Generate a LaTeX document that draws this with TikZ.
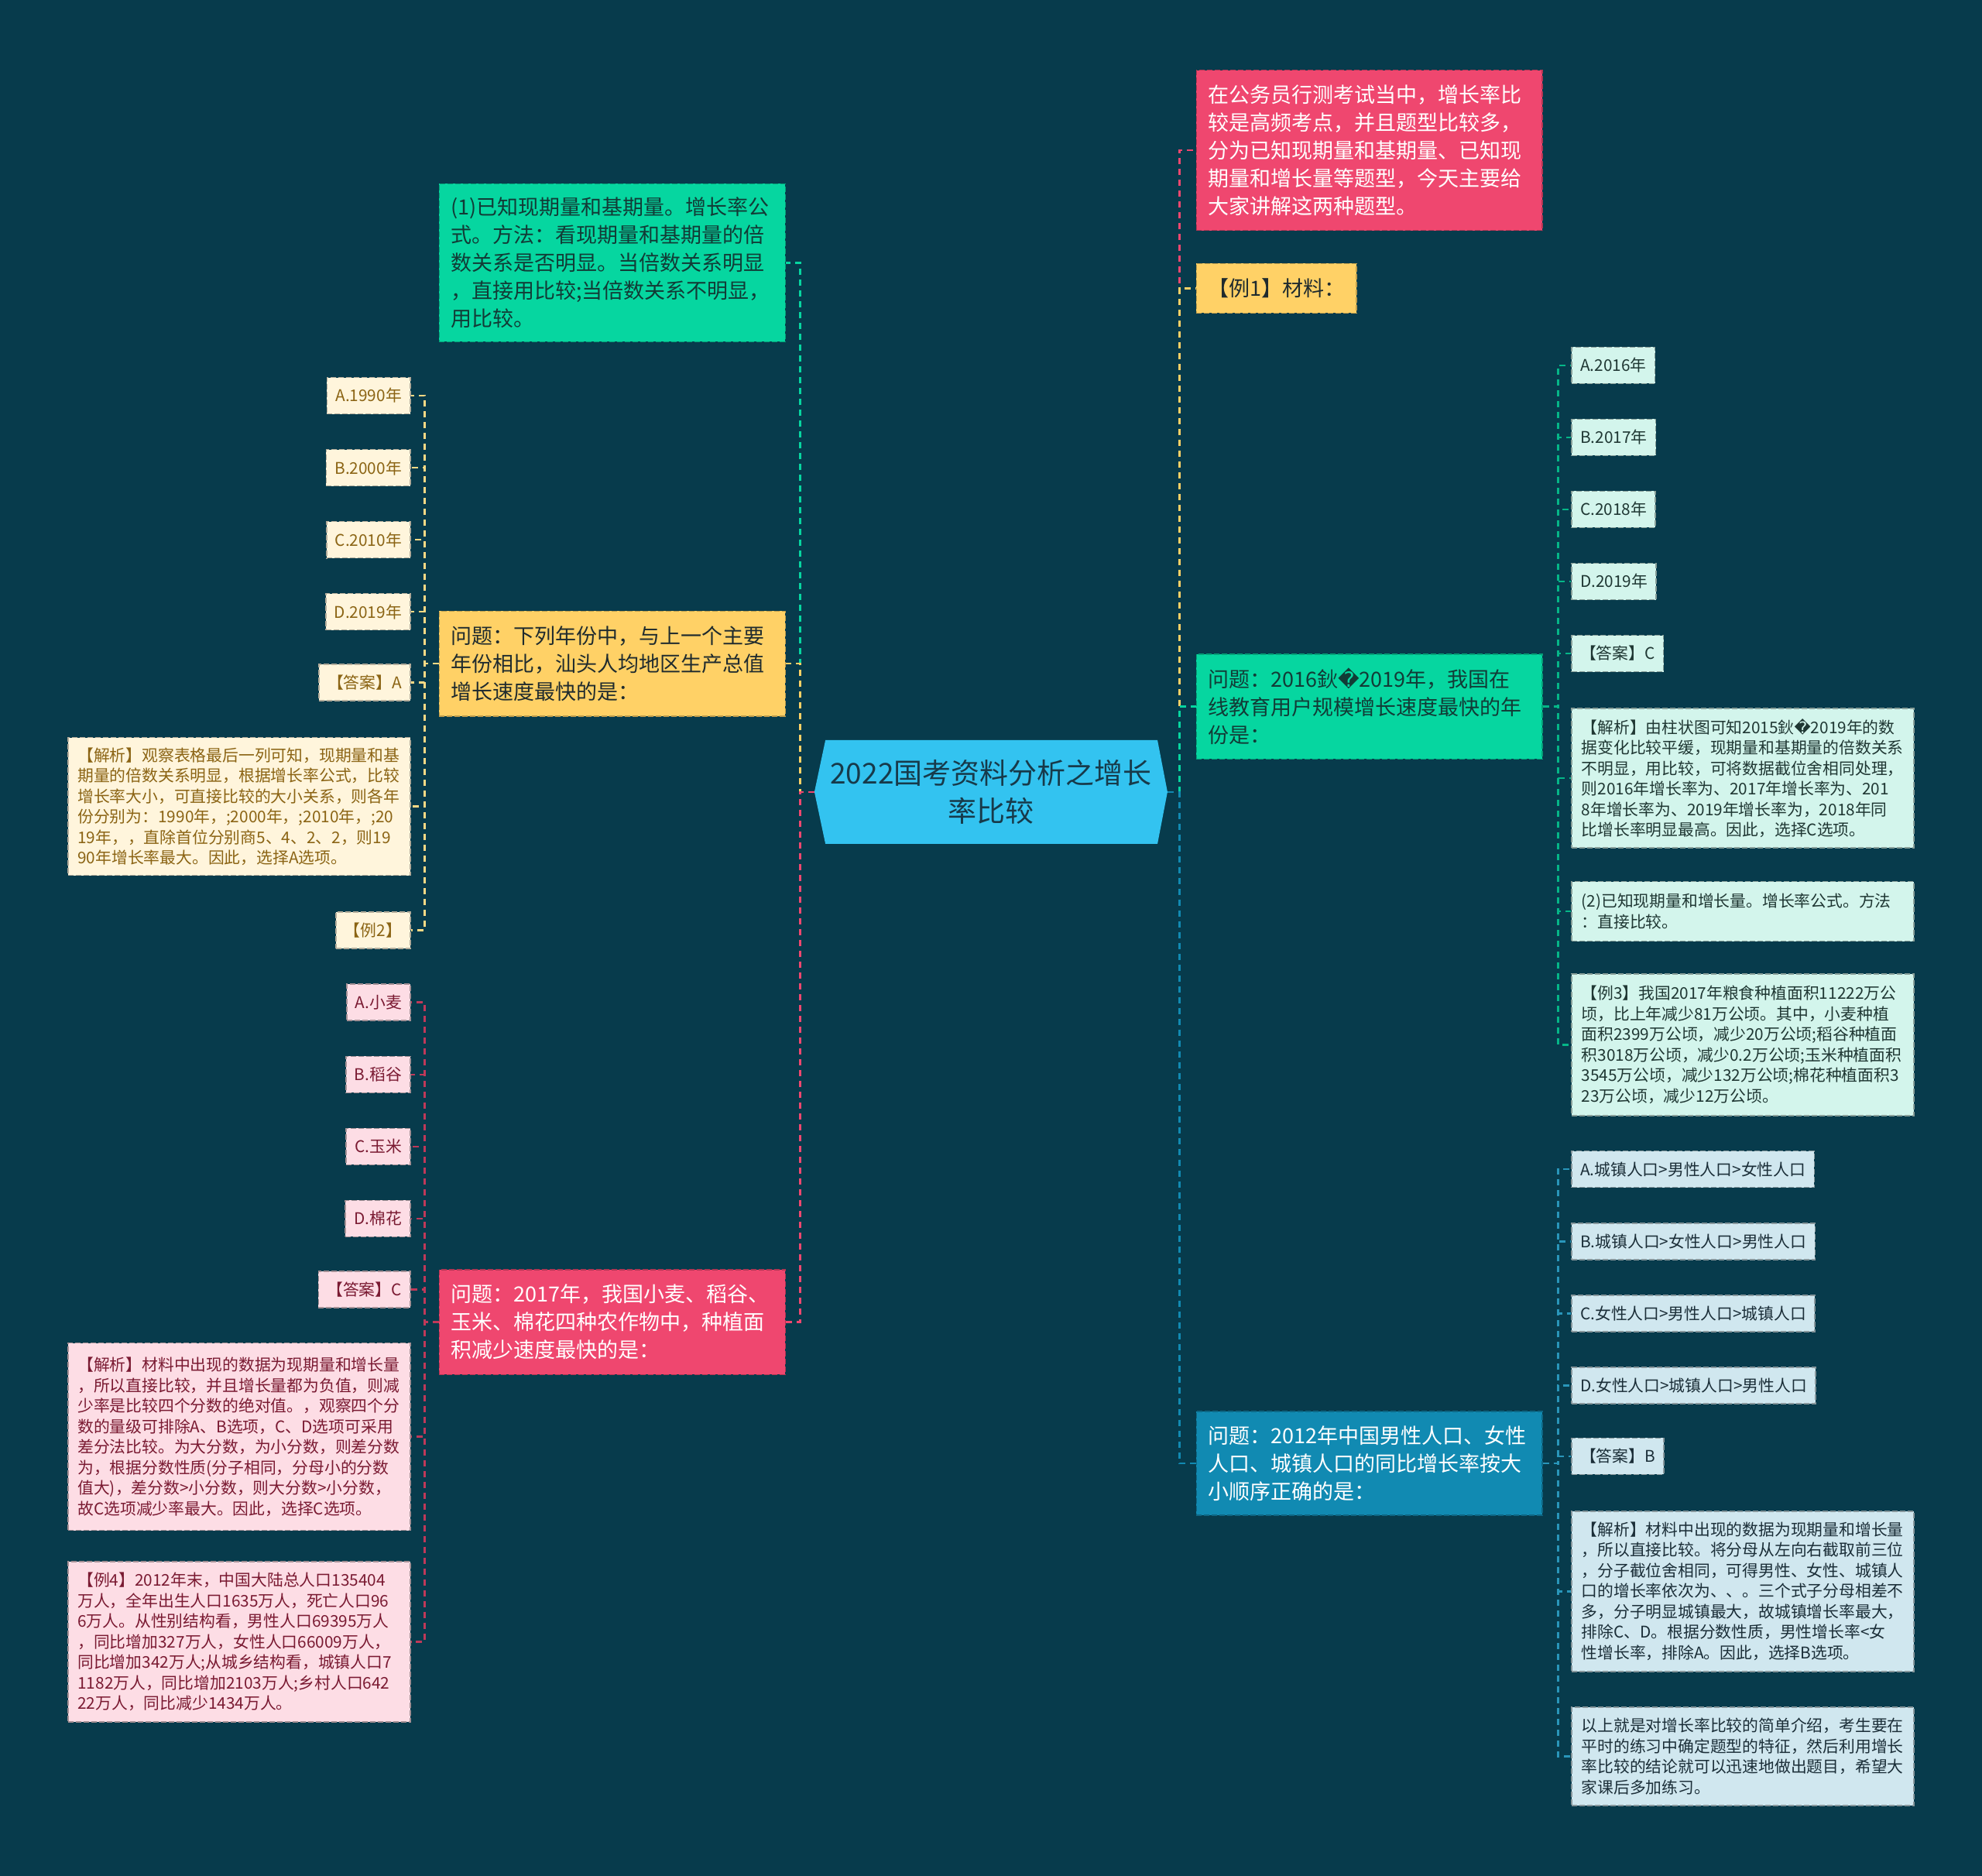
\documentclass[tikz,border=0pt]{standalone}
\usepackage{fontspec}
\setmainfont{Noto Sans CJK SC}
\newfontfamily\dvs{DejaVu Sans}
\newcommand{\repch}{{\dvs ^^^^fffd}}
\definecolor{bg}{HTML}{073B4C}
\definecolor{croot}{HTML}{33C3F0}
\definecolor{roottext}{HTML}{173A4A}
\definecolor{cpink}{HTML}{EF476F}
\definecolor{cyel}{HTML}{FFD166}
\definecolor{cgreen}{HTML}{06D6A0}
\definecolor{cblue}{HTML}{118AB2}
\definecolor{darkA}{HTML}{1F2B2E}
\definecolor{darkG}{HTML}{123B36}
\definecolor{yfill}{HTML}{FFF5DC}
\definecolor{ytext}{HTML}{8B6414}
\definecolor{pfill}{HTML}{FDDDE5}
\definecolor{ptext}{HTML}{7A1A32}
\definecolor{gfill}{HTML}{D3F5EC}
\definecolor{gtext}{HTML}{1F3733}
\definecolor{bfill}{HTML}{D0E7EF}
\definecolor{btext}{HTML}{1B2E38}
\tikzset{
  boxbase/.style={rectangle, line width=1.5pt, dash pattern=on 7pt off 3pt, inner ysep=0pt},
  lone/.style={boxbase, text width=417pt, inner xsep=15pt, align=left, font=\fontsize{27}{36}\selectfont},
  lonesmall/.style={boxbase, inner xsep=15pt, font=\fontsize{27}{36}\selectfont},
  ltwo/.style={boxbase, text width=417pt, inner xsep=12.5pt, align=left, font=\fontsize{20.8}{26.5}\selectfont},
  lsmall/.style={boxbase, inner xsep=11pt, minimum height=47pt, font=\fontsize{20.8}{26.5}\selectfont},
  ychild/.style={fill=yfill, draw=yfill!70!black, text=ytext},
  pchild/.style={fill=pfill, draw=pfill!65!black, text=ptext},
  gchild/.style={fill=gfill, draw=gfill!65!black, text=gtext},
  bchild/.style={fill=bfill, draw=bfill!65!black, text=btext},
  conn/.style={line width=2.5pt, dash pattern=on 8pt off 6pt},
}
\begin{document}
\begin{tikzpicture}[x=1.6327pt, y={(0pt,-1.6327pt)}]
\fill[bg] (0,0) rectangle (1568,1484);
\useasboundingbox (0,0) rectangle (1568,1484);

% root
\fill[croot] (653,585.5) -- (915.7,585.5) -- (923.6,626.5) -- (915.7,667.6) -- (653,667.6) -- (644.3,626.5) -- cycle;
\node[minimum width=456pt, minimum height=134pt, inner sep=0pt, align=center, text=roottext, font=\fontsize{37}{50}\selectfont] (root) at (784,626.5) {2022国考资料分析之增长\\率比较};

% right level 1
\node[lone, fill=cpink, draw=cpink!75!black, text=white, minimum height=207pt, anchor=north west] (intro) at (946,55) {在公务员行测考试当中，增长率比\\较是高频考点，并且题型比较多，\\分为已知现期量和基期量、已知现\\期量和增长量等题型，今天主要给\\大家讲解这两种题型。};
\node[lonesmall, fill=cyel, draw=cyel!75!black, text=darkA, minimum height=64pt, anchor=north west] (ex1) at (946,208) {【例1】材料：};
\node[lone, fill=cgreen, draw=cgreen!75!black, text=darkG, minimum height=135.5pt, anchor=north west] (q16) at (946,517) {问题：2016鈥\repch 2019年，我国在\\线教育用户规模增长速度最快的年\\份是：};
\node[lone, fill=cblue, draw=cblue!75!black, text=white, minimum height=134pt, anchor=north west] (q12) at (946,1116) {问题：2012年中国男性人口、女性\\人口、城镇人口的同比增长率按大\\小顺序正确的是：};

% left level 1
\node[lone, fill=cgreen, draw=cgreen!75!black, text=darkG, minimum height=204pt, anchor=north west] (m1) at (347,145) {(1)已知现期量和基期量。增长率公\\式。方法：看现期量和基期量的倍\\数关系是否明显。当倍数关系明显\\，直接用比较;当倍数关系不明显，\\用比较。};
\node[lone, fill=cyel, draw=cyel!75!black, text=darkA, minimum height=135.5pt, anchor=north west] (qyr) at (347,483) {问题：下列年份中，与上一个主要\\年份相比，汕头人均地区生产总值\\增长速度最快的是：};
\node[lone, fill=cpink, draw=cpink!75!black, text=white, minimum height=135.5pt, anchor=north west] (qcrop) at (347,1004) {问题：2017年，我国小麦、稻谷、\\玉米、棉花四种农作物中，种植面\\积减少速度最快的是：};

% right level 2 (q16)
\node[lsmall, gchild, anchor=west] (s16a) at (1243,289) {A.2016年};
\node[lsmall, gchild, anchor=west] (s16b) at (1243,346) {B.2017年};
\node[lsmall, gchild, anchor=west] (s16c) at (1243,403) {C.2018年};
\node[lsmall, gchild, anchor=west] (s16d) at (1243,460) {D.2019年};
\node[lsmall, gchild, anchor=west] (s16ans) at (1243,517) {【答案】C};
\node[ltwo, gchild, minimum height=180pt, anchor=north west] (j16) at (1243,560) {【解析】由柱状图可知2015鈥\repch 2019年的数\\据变化比较平缓，现期量和基期量的倍数关系\\不明显，用比较，可将数据截位舍相同处理，\\则2016年增长率为、2017年增长率为、201\\8年增长率为、2019年增长率为，2018年同\\比增长率明显最高。因此，选择C选项。};
\node[ltwo, gchild, minimum height=77pt, anchor=north west] (m2) at (1243,697) {(2)已知现期量和增长量。增长率公式。方法\\：直接比较。};
\node[ltwo, gchild, minimum height=183pt, anchor=north west] (ex3) at (1243,770) {【例3】我国2017年粮食种植面积11222万公\\顷，比上年减少81万公顷。其中，小麦种植\\面积2399万公顷，减少20万公顷;稻谷种植面\\积3018万公顷，减少0.2万公顷;玉米种植面积\\3545万公顷，减少132万公顷;棉花种植面积3\\23万公顷，减少12万公顷。};

% right level 2 (q12)
\node[lsmall, bchild, anchor=west] (optA) at (1243,925) {A.城镇人口>男性人口>女性人口};
\node[lsmall, bchild, anchor=west] (optB) at (1243,982) {B.城镇人口>女性人口>男性人口};
\node[lsmall, bchild, anchor=west] (optC) at (1243,1039) {C.女性人口>男性人口>城镇人口};
\node[lsmall, bchild, anchor=west] (optD) at (1243,1096) {D.女性人口>城镇人口>男性人口};
\node[lsmall, bchild, anchor=west] (ans12) at (1243,1152) {【答案】B};
\node[ltwo, bchild, minimum height=207pt, anchor=north west] (j12) at (1243,1195) {【解析】材料中出现的数据为现期量和增长量\\，所以直接比较。将分母从左向右截取前三位\\，分子截位舍相同，可得男性、女性、城镇人\\口的增长率依次为、、。三个式子分母相差不\\多，分子明显城镇最大，故城镇增长率最大，\\排除C、D。根据分数性质，男性增长率<女\\性增长率，排除A。因此，选择B选项。};
\node[ltwo, bchild, minimum height=127pt, anchor=north west] (summ) at (1243,1350) {以上就是对增长率比较的简单介绍，考生要在\\平时的练习中确定题型的特征，然后利用增长\\率比较的结论就可以迅速地做出题目，希望大\\家课后多加练习。};

% left level 2 (qyr)
\node[lsmall, ychild, anchor=east] (y90) at (325,313) {A.1990年};
\node[lsmall, ychild, anchor=east] (y00) at (325,370) {B.2000年};
\node[lsmall, ychild, anchor=east] (y10) at (325,427) {C.2010年};
\node[lsmall, ychild, anchor=east] (y19) at (325,484) {D.2019年};
\node[lsmall, ychild, anchor=east] (ansY) at (325,540) {【答案】A};
\node[ltwo, ychild, minimum height=178pt, anchor=north east] (jY) at (325,583) {【解析】观察表格最后一列可知，现期量和基\\期量的倍数关系明显，根据增长率公式，比较\\增长率大小，可直接比较的大小关系，则各年\\份分别为：1990年，;2000年，;2010年，;20\\19年，，直除首位分别商5、4、2、2，则19\\90年增长率最大。因此，选择A选项。};
\node[lsmall, ychild, anchor=east] (ex2) at (325,736) {【例2】};

% left level 2 (qcrop)
\node[lsmall, pchild, anchor=east] (wheat) at (325,793) {A.小麦};
\node[lsmall, pchild, anchor=east] (rice) at (325,850) {B.稻谷};
\node[lsmall, pchild, anchor=east] (corn) at (325,907) {C.玉米};
\node[lsmall, pchild, anchor=east] (cotton) at (325,964) {D.棉花};
\node[lsmall, pchild, anchor=east] (ansC) at (325,1020) {【答案】C};
\node[ltwo, pchild, minimum height=242pt, anchor=north east] (jC) at (325,1062) {【解析】材料中出现的数据为现期量和增长量\\，所以直接比较，并且增长量都为负值，则减\\少率是比较四个分数的绝对值。，观察四个分\\数的量级可排除A、B选项，C、D选项可采用\\差分法比较。为大分数，为小分数，则差分数\\为，根据分数性质(分子相同，分母小的分数\\值大)，差分数>小分数，则大分数>小分数，\\故C选项减少率最大。因此，选择C选项。};
\node[ltwo, pchild, minimum height=207pt, anchor=north east] (ex4) at (325,1235) {【例4】2012年末，中国大陆总人口135404\\万人，全年出生人口1635万人，死亡人口96\\6万人。从性别结构看，男性人口69395万人\\，同比增加327万人，女性人口66009万人，\\同比增加342万人;从城乡结构看，城镇人口7\\1182万人，同比增加2103万人;乡村人口642\\22万人，同比减少1434万人。};

% connectors level 1
\draw[conn, cpink] (root.east) -- ++(9.4,0) |- (intro.west);
\draw[conn, cyel] (root.east) -- ++(9.4,0) |- (ex1.west);
\draw[conn, cgreen] (root.east) -- ++(9.4,0) |- (q16.west);
\draw[conn, cblue] (root.east) -- ++(9.4,0) |- (q12.west);
\draw[conn, cgreen] (root.west) -- ++(-11.3,0) |- (m1.east);
\draw[conn, cyel] (root.west) -- ++(-11.3,0) |- (qyr.east);
\draw[conn, cpink] (root.west) -- ++(-11.3,0) |- (qcrop.east);

% connectors level 2
\foreach \c in {s16a,s16b,s16c,s16d,s16ans,j16,m2,ex3}
  \draw[conn, cgreen!85!black] (q16.east) -- ++(12,0) |- (\c.west);
\foreach \c in {optA,optB,optC,optD,ans12,j12,summ}
  \draw[conn, cblue!90!white] (q12.east) -- ++(12,0) |- (\c.west);
\foreach \c in {y90,y00,y10,y19,ansY,jY,ex2}
  \draw[conn, cyel!80!white] (qyr.west) -- ++(-11,0) |- (\c.east);
\foreach \c in {wheat,rice,corn,cotton,ansC,jC,ex4}
  \draw[conn, cpink!80!black] (qcrop.west) -- ++(-11,0) |- (\c.east);
\end{tikzpicture}
\end{document}
